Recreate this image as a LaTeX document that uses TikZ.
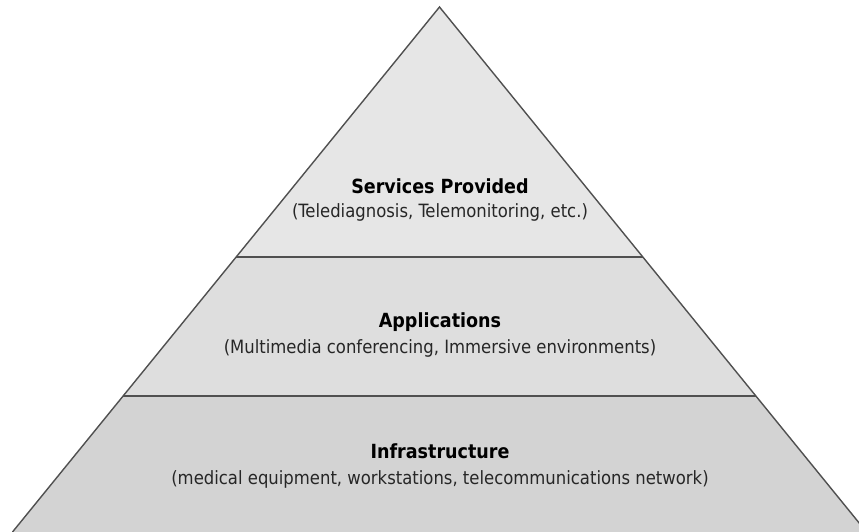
\documentclass[tikz,border=0pt]{standalone}
\usepackage{fontspec}
\setmainfont{DejaVu Sans Condensed}
\definecolor{topfill}{HTML}{E6E6E6}
\definecolor{midfill}{HTML}{DEDEDE}
\definecolor{botfill}{HTML}{D3D3D3}
\definecolor{edge}{HTML}{505050}
\begin{document}
\begin{tikzpicture}[x=1pt,y=-1pt,
  edgeline/.style={draw=edge,line width=1.4pt},
  titletext/.style={anchor=base,font=\fontsize{19.5}{22}\selectfont\bfseries,text=black,inner sep=0pt},
  subtext/.style={anchor=base,font=\fontsize{18.3}{21}\selectfont,text=black!85,inner sep=0pt}]
\useasboundingbox (0,0) rectangle (859,532);
\begin{scope}
\clip (0,0) rectangle (859,532);
\coordinate (apex) at (439.5,7);
\coordinate (l1) at (236.3,257);
\coordinate (r1) at (642.7,257);
\coordinate (l2) at (123.3,396);
\coordinate (r2) at (755.7,396);
\coordinate (bl) at (12.5,532);
\coordinate (br) at (866.5,532);
\fill[topfill] (apex) -- (r1) -- (l1) -- cycle;
\fill[midfill] (l1) -- (r1) -- (r2) -- (l2) -- cycle;
\fill[botfill] (l2) -- (r2) -- (br) -- (bl) -- cycle;
\draw[edgeline] (bl) -- (apex) -- (br);
\draw[edgeline] (l1) -- (r1);
\draw[edgeline] (l2) -- (r2);
\end{scope}
\node[titletext] (t1) at (440,193) {Services Provided};
\node[subtext] (s1) at (440,217) {(Telediagnosis, Telemonitoring, etc.)};
\node[titletext] (t2) at (440,327) {Applications};
\node[subtext] (s2) at (440,353) {(Multimedia conferencing, Immersive environments)};
\node[titletext] (t3) at (440,458) {Infrastructure};
\node[subtext] (s3) at (440,484) {(medical equipment, workstations, telecommunications network)};
\end{tikzpicture}
\end{document}
